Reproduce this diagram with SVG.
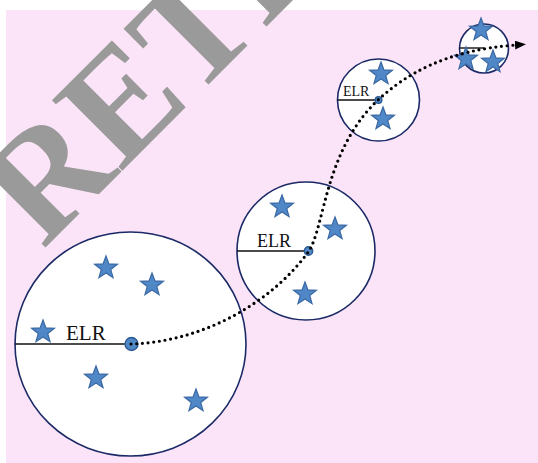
<svg xmlns="http://www.w3.org/2000/svg" xmlns:xlink="http://www.w3.org/1999/xlink" width="538" height="463" viewBox="0 0 538 463">
<style>
.ring{fill:#ffffff;stroke:#1b2a66;stroke-width:1.6}
.rad{stroke:#111;stroke-width:1.4}
.lbl{font-family:"Liberation Serif","Times New Roman",serif;fill:#111}
.dot{fill:#4f87c7;stroke:#2c5a92;stroke-width:1.4}
.star{fill:#4f87c7;stroke:#3a68a3;stroke-width:1.2;stroke-linejoin:miter}
.path{fill:none;stroke:#000;stroke-width:3.2;stroke-linecap:round;stroke-dasharray:0 5.7}
.wm{font-family:"Liberation Serif","Times New Roman",serif;font-weight:bold;fill:#9a9a9a}
</style>
<defs>
<path id="st" d="M0,-12 L2.94,-4.05 L11.41,-3.71 L4.76,1.55 L7.05,9.71 L0,5 L-7.05,9.71 L-4.76,1.55 L-11.41,-3.71 L-2.94,-4.05 Z"/>
<marker id="ah" viewBox="0 0 11 9" refX="1" refY="4.5" markerWidth="11" markerHeight="9" markerUnits="userSpaceOnUse" orient="auto">
<path d="M0,0 L11,4.5 L0,9 Z" fill="#000"/>
</marker>
</defs>
<rect x="0" y="0" width="538" height="463" fill="#ffffff"/>
<rect x="6" y="10" width="532" height="453" fill="#fbe4f8"/>

<g id="node-large">
<ellipse class="ring" cx="130.5" cy="344" rx="115.5" ry="112"/>
<line class="rad" x1="15" y1="344" x2="131" y2="344"/>
<text class="lbl" x="66" y="340" font-size="21">ELR</text>
<use href="#st" class="star" x="106" y="268"/>
<use href="#st" class="star" x="152" y="285"/>
<use href="#st" class="star" x="43" y="332"/>
<use href="#st" class="star" x="96" y="378"/>
<use href="#st" class="star" x="196" y="401"/>
<circle class="dot" cx="131.5" cy="344" r="6.5"/>
</g>

<g id="node-middle">
<circle class="ring" cx="306" cy="251" r="69"/>
<line class="rad" x1="237" y1="251" x2="308" y2="251"/>
<text class="lbl" x="257" y="247" font-size="18">ELR</text>
<use href="#st" class="star" x="282" y="207"/>
<use href="#st" class="star" x="335" y="229"/>
<use href="#st" class="star" x="305" y="294"/>
<circle class="dot" cx="308.5" cy="251" r="4.2"/>
</g>

<g id="node-upper">
<circle class="ring" cx="378.5" cy="100" r="41"/>
<line class="rad" x1="337.5" y1="100" x2="378" y2="100"/>
<text class="lbl" x="343" y="96" font-size="14">ELR</text>
<use href="#st" class="star" x="381" y="74"/>
<use href="#st" class="star" x="383" y="119"/>
<circle class="dot" cx="378.5" cy="100" r="3.3"/>
</g>

<g id="node-top">
<circle class="ring" cx="484" cy="48.5" r="24.5"/>
<line class="rad" x1="459.5" y1="48" x2="484" y2="48"/>
<use href="#st" class="star" x="481" y="30"/>
<use href="#st" class="star" x="466" y="59"/>
<use href="#st" class="star" x="493" y="62"/>
</g>

<g id="connectors">
<path class="path" d="M131,344 C200,342 270,305 309,251 C325,225 325,150 378,100 C405,75 445,50 516,45" marker-end="url(#ah)"/>
</g>

<text class="wm" font-size="152" transform="translate(43,250) rotate(-45)">RETRACTED</text>
</svg>
